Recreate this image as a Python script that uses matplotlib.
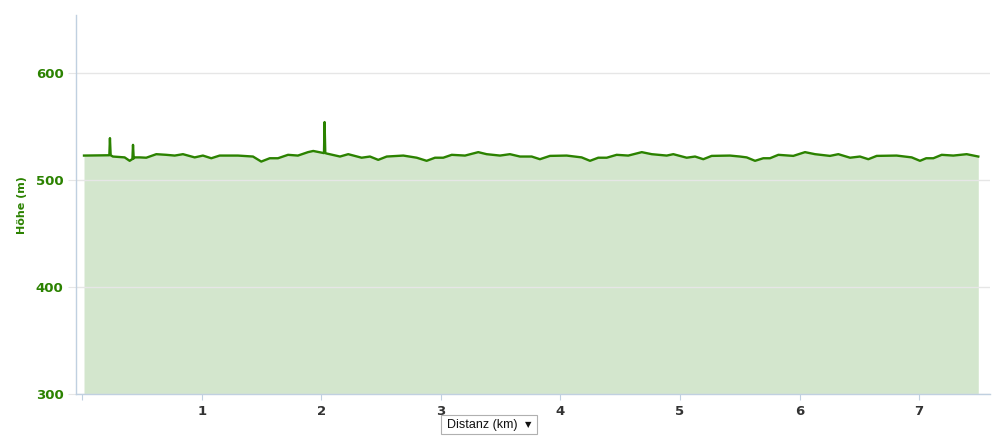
import matplotlib
matplotlib.use("Agg")
import matplotlib.pyplot as plt
from matplotlib.patches import Rectangle

# distance (km) and elevation (m)
dist_km = [
    0.013, 0.225, 0.230, 0.236, 0.255, 0.353, 0.395, 0.418, 0.423, 0.429, 0.437,
    0.479, 0.534, 0.618, 0.701, 0.772, 0.841, 0.939, 1.008, 1.078, 1.148,
    1.301, 1.427, 1.496, 1.567, 1.636, 1.720, 1.803, 1.887, 1.931, 2.021,
    2.026, 2.032, 2.044, 2.155, 2.224, 2.336, 2.406, 2.475, 2.546, 2.685,
    2.797, 2.880, 2.950, 3.019, 3.090, 3.201, 3.312, 3.382, 3.494, 3.577,
    3.661, 3.759, 3.828, 3.912, 4.052, 4.177, 4.247, 4.316, 4.387, 4.470,
    4.567, 4.680, 4.763, 4.889, 4.944, 5.056, 5.126, 5.195, 5.265, 5.418,
    5.502, 5.558, 5.628, 5.697, 5.753, 5.823, 5.948, 6.046, 6.130, 6.255,
    6.325, 6.423, 6.506, 6.576, 6.646, 6.813, 6.939, 7.008, 7.060, 7.120,
    7.190, 7.287, 7.399, 7.496,
]
elev_m = [
    522.7, 523.0, 539.0, 523.0, 521.8, 521.0, 517.8, 519.5, 532.7, 520.0, 521.0,
    521.0, 520.7, 524.0, 523.4, 522.7, 524.0, 521.0, 522.7, 520.2, 522.7,
    522.7, 521.8, 517.1, 520.2, 520.2, 523.4, 522.7, 525.9, 527.0, 525.0,
    554.0, 525.0, 524.6, 521.8, 524.0, 520.7, 521.8, 518.7, 521.8, 522.7,
    520.7, 517.8, 520.7, 520.7, 523.4, 522.7, 525.9, 524.0, 522.7, 524.0,
    521.8, 521.8, 519.3, 522.4, 522.7, 521.0, 517.8, 520.7, 520.7, 523.4,
    522.7, 525.9, 524.0, 522.7, 524.0, 520.7, 521.8, 519.3, 522.4, 522.7,
    521.8, 521.0, 517.8, 520.2, 520.2, 523.4, 522.4, 525.9, 524.0, 522.4,
    524.0, 520.7, 521.8, 519.3, 522.4, 522.7, 521.0, 517.8, 520.2, 520.2,
    523.4, 522.7, 524.0, 521.8,
]
y_ticks = [300, 400, 500, 600]
x_ticks = [0, 1, 2, 3, 4, 5, 6, 7]
x_labels = ["", "1", "2", "3", "4", "5", "6", "7"]

green = "#2b8200"
axis_col = "#c0d0e0"

fig = plt.figure(figsize=(10.02, 4.40), dpi=100)
ax = fig.add_axes([76 / 1002, 46 / 440, 914 / 1002, 379 / 440])

ax.fill_between(dist_km, 300, elev_m, color="#d3e6cd", lw=0, zorder=1)
ax.plot(dist_km, elev_m, color=green, lw=1.7, zorder=3)

ax.set_xlim(-0.054, 7.594)
ax.set_ylim(300, 654)
ax.set_yticks(y_ticks)
ax.set_xticks(x_ticks)
ax.set_xticklabels(x_labels)
ax.grid(axis="y", color="#e6e6e6", lw=1, zorder=0)

for s in ["top", "right"]:
    ax.spines[s].set_visible(False)
for s in ["left", "bottom"]:
    ax.spines[s].set_color(axis_col)
    ax.spines[s].set_linewidth(1)

ax.tick_params(axis="y", length=6, color="#e6e6e6", pad=3,
               labelsize=9.5, labelcolor=green)
ax.tick_params(axis="x", length=4, color=axis_col, pad=4,
               labelsize=9.5, labelcolor="#333333")
for lab in ax.get_yticklabels() + ax.get_xticklabels():
    lab.set_fontweight("bold")

fig.text(22 / 1002, 1 - 205 / 440, "Höhe (m)", rotation=90, ha="center",
         va="center", color=green, fontsize=8, fontweight="bold")

# the unit selector below the axis
fig.add_artist(Rectangle((441 / 1002, 1 - 434 / 440), 96 / 1002, 19 / 440,
                         transform=fig.transFigure, fc="white", ec="#b0b0b0", lw=0.8))
fig.text(447 / 1002, 1 - 425 / 440, "Distanz (km)", ha="left", va="center",
         fontsize=9, color="#111111", family=["Liberation Sans", "DejaVu Sans"])
fig.text(528 / 1002, 1 - 425 / 440, "\u25BC", ha="center", va="center",
         fontsize=6, color="#111111", family=["DejaVu Sans"])

fig.savefig("out.png", dpi=100)
